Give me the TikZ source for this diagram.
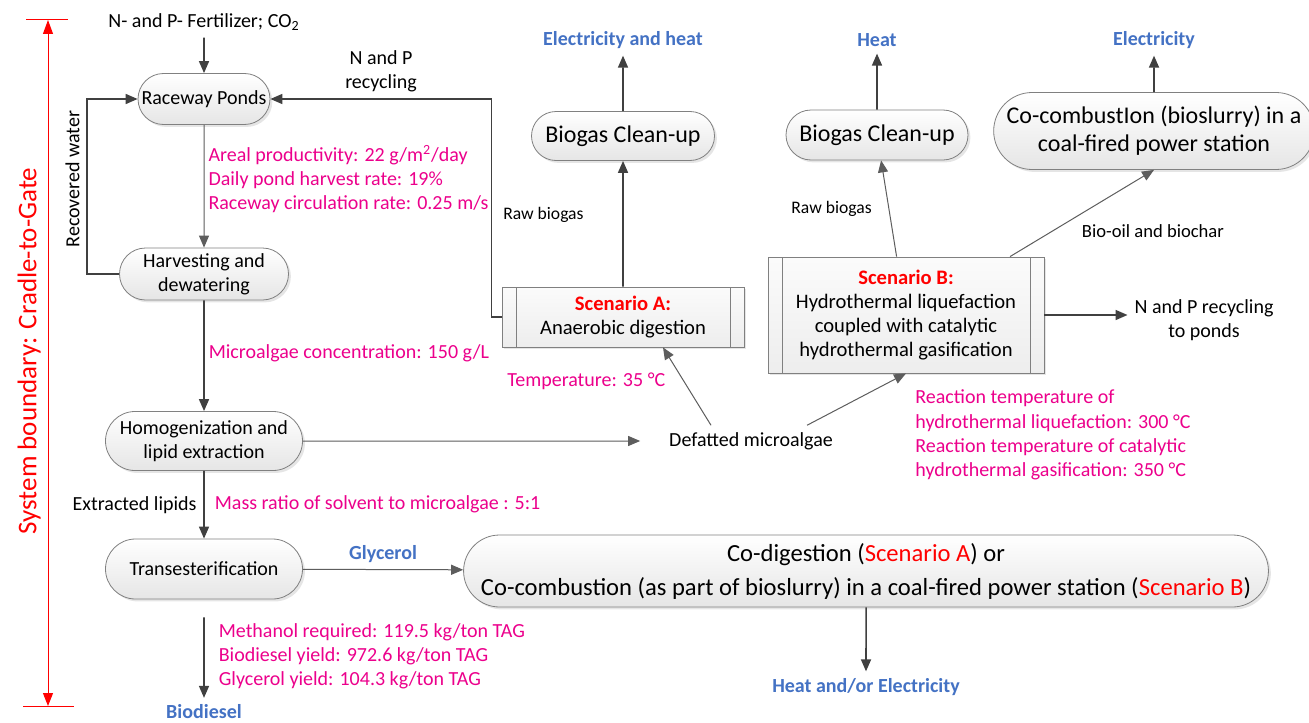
\documentclass[tikz,border=0pt]{standalone}
\usepackage{fontspec}
\setmainfont{Carlito}
\usepackage{xcolor}
\usepackage{tikz}
\usetikzlibrary{positioning, shapes.misc, shadows, arrows.meta}

\definecolor{mag}{RGB}{236,0,140}
\definecolor{outblue}{RGB}{68,114,196}
\definecolor{scred}{RGB}{255,0,0}
\definecolor{linegray}{RGB}{64,64,64}
\definecolor{boxedge}{RGB}{128,128,128}

\begin{document}
\begin{tikzpicture}[x=0.5pt, y=-0.5pt, on grid,
        font=\fontsize{10}{12}\selectfont,
        unit/.style={rounded rectangle, draw=boxedge, top color=white, bottom color=gray!20,
            drop shadow={shadow xshift=1.2pt, shadow yshift=-1.2pt, opacity=0.2},
            align=center, inner sep=2pt},
        scen/.style={rectangle, draw=boxedge, top color=gray!3, bottom color=gray!14,
            drop shadow={shadow xshift=1.2pt, shadow yshift=-1.2pt, opacity=0.2},
            align=center, inner sep=2pt, font=\fontsize{10.3}{12}\selectfont,
            path picture={
                \draw[boxedge] ([xshift=7pt]path picture bounding box.north west)
                    -- ([xshift=7pt]path picture bounding box.south west)
                    ([xshift=-7pt]path picture bounding box.north east)
                    -- ([xshift=-7pt]path picture bounding box.south east);}},
        note/.style={text=mag, align=left, inner sep=2pt},
        prod/.style={text=outblue, font=\fontsize{10}{12}\selectfont\bfseries},
        lbl/.style={font=\fontsize{8.8}{11}\selectfont},
        flow/.style={draw=linegray, line width=0.8pt, -{Triangle[length=6pt,width=5pt]}},
        fine/.style={draw=linegray!85, line width=0.5pt, -{Triangle[length=6pt,width=5pt]}},
        big/.style={font=\fontsize{12}{14}\selectfont}]

        \path[use as bounding box, fill=white] (0,0) rectangle (1309,722);

        % left column
        \node[unit, minimum width=70pt, minimum height=25.5pt] (rp) at (204,99) {Raceway Ponds};
        \node[above=38.5pt of rp] (fert) {N- and P- Fertilizer; CO\textsubscript{2}};
        \node[unit, minimum width=88.5pt, minimum height=26pt, below=87.5pt of rp] (hd) {Harvesting and\\dewatering};
        \node[unit, minimum width=102.5pt, minimum height=29.5pt, below=83.5pt of hd] (hl) {Homogenization and\\lipid extraction};
        \node[unit, minimum width=102.5pt, minimum height=30pt, below=64pt of hl] (tr) {Transesterification};
        \node[prod, below=71.5pt of tr] (bd) {Biodiesel};
        \node[right=273.5pt of hl] (defat) {Defatted microalgae};

        % scenario A
        \node[scen, minimum width=121pt, minimum height=30pt] (scA) at (623,317)
            {\textcolor{scred}{\bfseries Scenario A:}\\Anaerobic digestion};
        \node[unit, big, minimum width=95.5pt, minimum height=24.5pt, above=90.5pt of scA] (bcA) {Biogas Clean-up};
        \node[prod, above=48pt of bcA] (outA) {Electricity and heat};
        \node[note, anchor=west] (tempA) at (503,381) {Temperature: 35 °C};

        % scenario B
        \node[scen, minimum width=138pt, minimum height=58pt] (scB) at (906,315)
            {\textcolor{scred}{\bfseries Scenario B:}\\Hydrothermal liquefaction\\coupled with catalytic\\hydrothermal gasification};
        \node[unit, big, minimum width=95pt, minimum height=25pt] (bcB) at (877,135) {Biogas Clean-up};
        \node[prod, above=47.5pt of bcB] (outB) {Heat};
        \node[unit, big, minimum width=154pt, minimum height=38.5pt] (cc) at (1154,131)
            {Co-combustIon (bioslurry) in a\\coal-fired power station};
        \node[prod, above=45.5pt of cc] (outC) {Electricity};
        \node[align=center] (np) at (1204,320) {N and P recycling\\to ponds};
        \node[note, anchor=west, font=\fontsize{10}{12.2}\selectfont] (tempB) at (911,435) {Reaction temperature of\\hydrothermal liquefaction: 300 °C\\Reaction temperature of catalytic\\hydrothermal gasification: 350 °C};

        % glycerol
        \node[unit, font=\fontsize{12.3}{17}\selectfont, minimum width=396.5pt, minimum height=36pt] (cd) at (866,571)
            {Co-digestion (\textcolor{scred}{Scenario A}) or\\Co-combustion (as part of bioslurry) in a coal-fired power station (\textcolor{scred}{Scenario B})};
        \node[prod, below=58pt of cd] (outD) {Heat and/or Electricity};

        % system boundary
        \coordinate (sbtop) at (48,20);
        \coordinate (sbbot) at (48,706);
        \draw[scred, line width=0.5pt, {Triangle[length=7pt,width=5pt]}-{Triangle[length=6.5pt,width=5pt]}]
            (sbtop) -- node[rotate=90, above=6pt, font=\fontsize{13.5}{16}\selectfont] {System boundary: Cradle-to-Gate} (sbbot);
        \draw[scred, line width=0.5pt] ([xshift=-11pt]sbtop) -- ([xshift=10pt]sbtop)
            ([xshift=-12.5pt]sbbot) -- ([xshift=13pt]sbbot);

        % connectors
        \draw[flow] (fert) -- (rp);
        \draw[fine] (rp) -- node[note, right, pos=0.44] {Areal productivity: 22 g/m\textsuperscript{2}/day\\Daily pond harvest rate: 19\%\\Raceway circulation rate: 0.25 m/s} (hd);
        \draw[flow] (hd.west) -- ++(-32,0) |- node[pos=0.26, rotate=90, above=2pt] {Recovered water} (rp.west);
        \draw[flow] (scA.west) -- ++(-10,0) |- node[pos=0.75, above, align=center] {N and P\\recycling} (rp.east);
        \draw[flow] (hd) -- node[note, right, pos=0.48] {Microalgae concentration: 150 g/L} (hl);
        \draw[fine, shorten >=11pt] (hl) -- (defat);
        \draw[fine] ([xshift=-20pt]defat.north) -- ([xshift=20pt]scA.south);
        \draw[fine] ([xshift=28pt]defat.north) -- (scB.south);
        \draw[flow] (scA) -- node[lbl, pos=0.57, left=16pt] {Raw biogas} (bcA);
        \draw[flow] (bcA) -- (outA);
        \draw[fine] (scB) -- node[lbl, pos=0.5, left=5pt] {Raw biogas} (bcB);
        \draw[flow] (bcB) -- (outB);
        \draw[fine] ([xshift=52pt]scB.north) -- node[lbl, font=\fontsize{9.3}{11}\selectfont, pos=0.45, below right] {Bio-oil and biochar} (cc.south);
        \draw[flow] (cc) -- (outC);
        \draw[flow] (scB.east) -- (scB.east -| np.west);
        \draw[flow] (hl) -- node[left] {Extracted lipids} node[note, right=3pt] {Mass ratio of solvent to microalgae : 5:1} (tr);
        \draw[fine] (tr) -- node[prod, above] {Glycerol} (cd);
        \draw[flow] (cd) -- (outD);
        \draw[flow, shorten <=9pt] (tr) -- node[note, right=5pt, pos=0.58] {Methanol required: 119.5 kg/ton TAG\\Biodiesel yield: 972.6 kg/ton TAG\\Glycerol yield: 104.3 kg/ton TAG} (bd);
\end{tikzpicture}
\end{document}
